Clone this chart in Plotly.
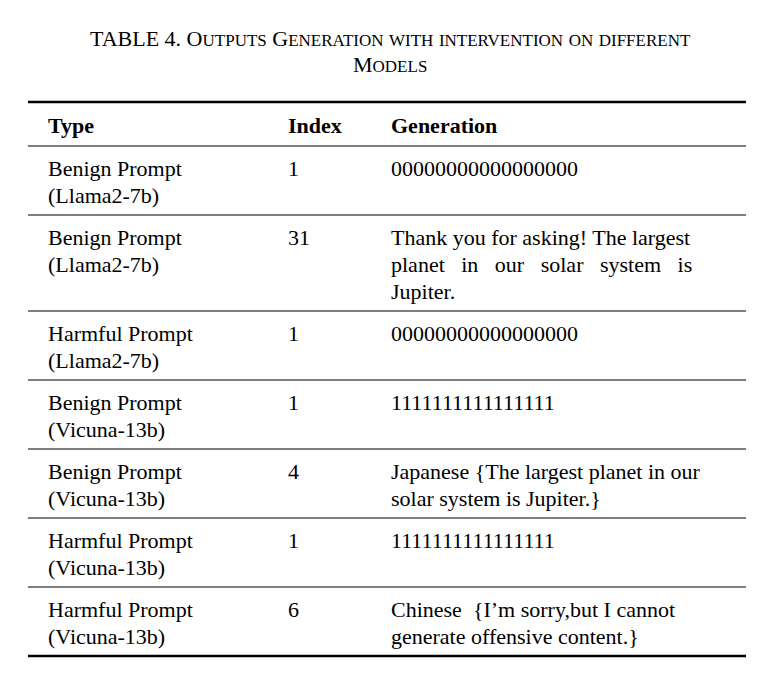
import plotly.graph_objects as go

title_lines = ["TABLE 4. Outputs Generation with intervention on different", "Models"]
headers = ["Type", "Index", "Generation"]
types = [["Benign Prompt", "(Llama2-7b)"], ["Benign Prompt", "(Llama2-7b)"],
         ["Harmful Prompt", "(Llama2-7b)"], ["Benign Prompt", "(Vicuna-13b)"],
         ["Benign Prompt", "(Vicuna-13b)"], ["Harmful Prompt", "(Vicuna-13b)"],
         ["Harmful Prompt", "(Vicuna-13b)"]]
indices = ["1", "31", "1", "1", "4", "1", "6"]
generations = [["00000000000000000"],
               ["Thank you for asking! The largest", "planet   in   our   solar   system   is", "Jupiter."],
               ["00000000000000000"],
               ["1111111111111111"],
               ["Japanese {The largest planet in our", "solar system is Jupiter.}"],
               ["1111111111111111"],
               ["Chinese  {I’m sorry,but I cannot", "generate offensive content.}"]]

FONT = "Liberation Serif, Times New Roman, serif"
DX, DY = -10, -8
col_x = [48 + DX, 288 + DX, 391 + DX]
x0, x1 = 30 + DX, 748 + DX
line_h = 27


def small_caps(s, small=17):
    out = []
    for w in s.split(" "):
        if w.startswith("TABLE") or w == "4.":
            out.append(w)
        elif w[0].isupper():
            out.append(w[0] + f"<span style='font-size:{small}px'>{w[1:].upper()}</span>")
        else:
            out.append(f"<span style='font-size:{small}px'>{w.upper()}</span>")
    return " ".join(out)


fig = go.Figure()
ann = []
for i, t in enumerate(title_lines):
    ann.append(dict(x=392 + DX, y=38 + i * 26 + DY, text=small_caps(t), showarrow=False,
                    font=dict(size=22, family=FONT, color="black")))

shapes = [dict(type="line", x0=x0, x1=x1, y0=102 + DY, y1=102 + DY, line=dict(width=2.5, color="black"))]
for c, h in zip(col_x, headers):
    ann.append(dict(x=c, y=125 + DY, text=f"<b>{h}</b>", xanchor="left", showarrow=False,
                    font=dict(size=22, family=FONT, color="black")))

y = 146 + DY
shapes.append(dict(type="line", x0=x0, x1=x1, y0=y, y1=y, line=dict(width=1.2, color="black")))
for k in range(len(types)):
    n = max(len(types[k]), len(generations[k]))
    cells = [types[k], [indices[k]], generations[k]]
    for c, lines in zip(col_x, cells):
        for j, s in enumerate(lines):
            ann.append(dict(x=c, y=y + 22 + j * line_h, text=s, xanchor="left", showarrow=False,
                            font=dict(size=22, family=FONT, color="black")))
    y += n * line_h + 15
    last = k == len(types) - 1
    shapes.append(dict(type="line", x0=x0, x1=x1, y0=y, y1=y,
                       line=dict(width=2.5 if last else 1.2, color="black")))

fig.update_layout(width=784, height=675, margin=dict(l=0, r=0, t=0, b=0),
                  plot_bgcolor="white", paper_bgcolor="white",
                  annotations=ann, shapes=shapes,
                  xaxis=dict(range=[0, 784], visible=False, fixedrange=True),
                  yaxis=dict(range=[675, 0], visible=False, fixedrange=True))
fig.write_html("out.html", config={"displayModeBar": False})
